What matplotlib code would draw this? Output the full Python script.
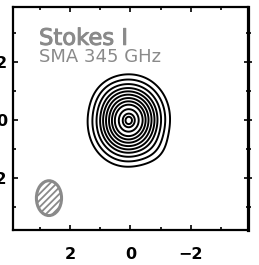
import matplotlib
matplotlib.use("Agg")
import matplotlib.pyplot as plt
import matplotlib.patheffects as pe
from matplotlib.patches import Ellipse
from matplotlib.ticker import MultipleLocator
import numpy as np

# source model (arcsec offsets)
src_x0, src_y0 = 0.05, -0.02
src_sig_x, src_sig_y = 0.58, 0.68
src_pa_deg = -8.0
# faint extensions that make the outer contours lopsided: x, y, amp, sigma
ext_x = [0.55, -0.75]
ext_y = [0.75, -1.0]
ext_amp = [0.05, 0.035]
ext_sig = [0.45, 0.4]
# contour levels, fraction of peak
levels = [0.066, 0.12, 0.19, 0.27, 0.35, 0.44, 0.54, 0.64, 0.74, 0.86, 0.95, 0.99]

# synthesized beam
beam_x, beam_y = 2.69, -2.69
beam_w, beam_h = 0.83, 1.20
beam_pa = 0.0

title = "Stokes I"
subtitle = "SMA 345 GHz"
xticks = [2, 0, -2]
yticks = [2, 0, -2]
gray = "#8a8a8a"

plt.rcParams["hatch.linewidth"] = 1.3

fig = plt.figure(figsize=(2.59, 2.65), dpi=100)
ax = fig.add_axes([0.050, 0.132, 0.907, 0.840])

g = np.linspace(-4.2, 4.2, 500)
X, Y = np.meshgrid(g, g)
t = np.deg2rad(src_pa_deg)
dx, dy = X - src_x0, Y - src_y0
u = dx * np.cos(t) - dy * np.sin(t)
v = dx * np.sin(t) + dy * np.cos(t)
Z = np.exp(-0.5 * ((u / src_sig_x) ** 2 + (v / src_sig_y) ** 2))
for ex, ey, ea, es in zip(ext_x, ext_y, ext_amp, ext_sig):
    Z += ea * np.exp(-0.5 * ((X - ex) ** 2 + (Y - ey) ** 2) / es ** 2)
ax.contour(X, Y, Z, levels=levels, colors="black", linewidths=1.4)

beam = Ellipse((beam_x, beam_y), beam_w, beam_h, angle=beam_pa,
               facecolor="none", edgecolor=gray, linewidth=2.2, hatch="/////")
ax.add_patch(beam)

halo = [pe.withStroke(linewidth=0.7, foreground=gray)]
ax.text(0.111, 0.832, title, transform=ax.transAxes, fontsize=16.3,
        color=gray, ha="left", va="baseline", path_effects=halo)
ax.text(0.111, 0.756, subtitle, transform=ax.transAxes, fontsize=13,
        color=gray, ha="left", va="baseline")

ax.set_xlim(3.88, -3.88)
ax.set_ylim(-3.79, 3.89)
ax.set_xticks(xticks)
ax.set_yticks(yticks)
ax.xaxis.set_minor_locator(MultipleLocator(1))
ax.yaxis.set_minor_locator(MultipleLocator(1))
ax.set_xticklabels([f"{v}".replace("-", "\u2212") for v in xticks])
ax.set_yticklabels([f"{v}".replace("-", "\u2212") for v in yticks])

for s in ax.spines.values():
    s.set_linewidth(1.6)
ax.spines["right"].set_linewidth(2.3)

ax.tick_params(which="both", direction="in", top=True, right=True, width=1.2)
ax.tick_params(which="major", length=3.6)
ax.tick_params(which="minor", length=2.2)
ax.tick_params(axis="y", which="major", pad=4.3)
ax.tick_params(axis="x", which="major", pad=12)
for lab in ax.get_xticklabels() + ax.get_yticklabels():
    lab.set_fontsize(11.5)
    lab.set_fontweight("bold")

# right edge ticks cross the frame (the neighbouring panel's ticks)
for tk in ax.yaxis.get_major_ticks():
    tk.tick2line.set_marker("_")
    tk.tick2line.set_markersize(6.3)
for tk in ax.yaxis.get_minor_ticks():
    tk.tick2line.set_marker("_")
    tk.tick2line.set_markersize(3.6)

fig.savefig("out.png", dpi=100)
